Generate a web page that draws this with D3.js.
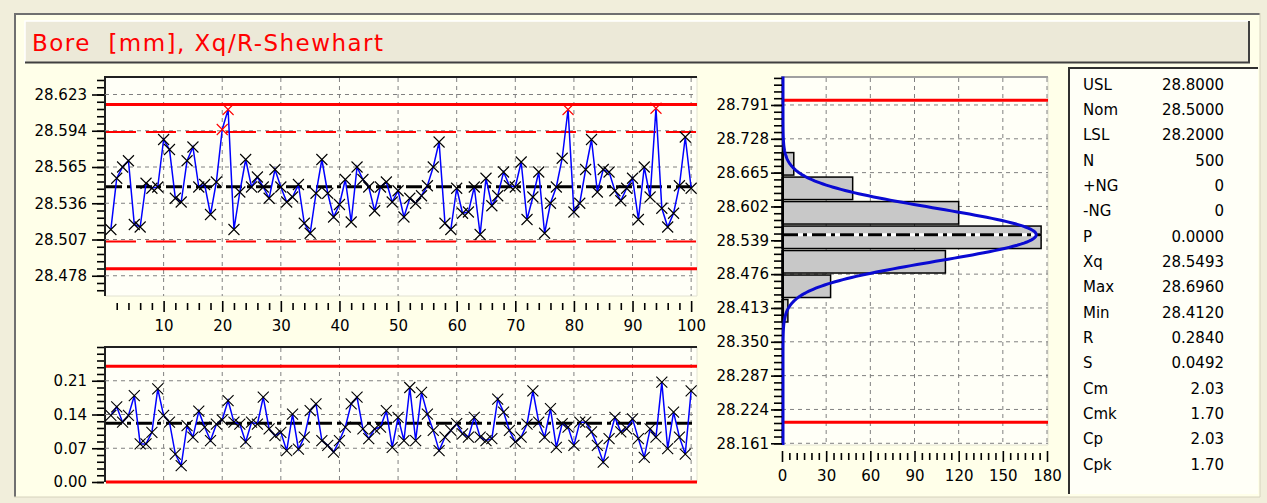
<!DOCTYPE html>
<html>
<head>
<meta charset="utf-8">
<script src="https://cdn.jsdelivr.net/npm/d3@7"></script>
<style>
  body { margin: 0; background: #f1eedb; }
  svg { display: block; }
  text { font-family: "DejaVu Sans", Verdana, sans-serif; font-size: 15px; fill: #000; }
</style>
</head>
<body>
<div id="shewhart"></div>
<script>
// subgroup means, 100 subgroups
const xbarValues = [
  28.515, 28.556, 28.565, 28.570, 28.519, 28.517, 28.552, 28.548, 28.549, 28.587,
  28.579, 28.540, 28.537, 28.570, 28.581, 28.549, 28.551, 28.527, 28.553, 28.595,
  28.611, 28.515, 28.545, 28.571, 28.549, 28.557, 28.549, 28.540, 28.563, 28.549,
  28.537, 28.541, 28.551, 28.520, 28.512, 28.544, 28.571, 28.544, 28.525, 28.535,
  28.555, 28.521, 28.565, 28.555, 28.549, 28.530, 28.549, 28.553, 28.537, 28.546,
  28.525, 28.540, 28.536, 28.542, 28.550, 28.565, 28.585, 28.520, 28.515, 28.548,
  28.528, 28.529, 28.549, 28.511, 28.556, 28.534, 28.542, 28.561, 28.550, 28.549,
  28.569, 28.523, 28.541, 28.561, 28.512, 28.536, 28.549, 28.572, 28.611, 28.529,
  28.536, 28.563, 28.587, 28.545, 28.563, 28.561, 28.546, 28.538, 28.548, 28.556,
  28.523, 28.565, 28.541, 28.612, 28.532, 28.517, 28.528, 28.550, 28.589, 28.548
];
// subgroup ranges
const rangeValues = [
  0.138, 0.156, 0.124, 0.138, 0.179, 0.079, 0.079, 0.103, 0.193, 0.138,
  0.124, 0.058, 0.034, 0.117, 0.093, 0.147, 0.114, 0.086, 0.120, 0.129,
  0.169, 0.124, 0.120, 0.083, 0.124, 0.120, 0.176, 0.110, 0.096, 0.103,
  0.065, 0.141, 0.068, 0.093, 0.148, 0.162, 0.086, 0.076, 0.062, 0.086,
  0.114, 0.162, 0.176, 0.110, 0.090, 0.110, 0.114, 0.148, 0.072, 0.134,
  0.086, 0.196, 0.086, 0.186, 0.141, 0.107, 0.065, 0.093, 0.107, 0.121,
  0.100, 0.093, 0.134, 0.093, 0.086, 0.090, 0.172, 0.145, 0.107, 0.083,
  0.093, 0.120, 0.189, 0.124, 0.093, 0.152, 0.072, 0.121, 0.114, 0.076,
  0.124, 0.124, 0.104, 0.076, 0.041, 0.090, 0.134, 0.104, 0.110, 0.131,
  0.090, 0.051, 0.110, 0.093, 0.207, 0.069, 0.145, 0.093, 0.058, 0.189
];

// control limits
const xbarCenter = 28.5493, xbarUcl = 28.615, xbarLcl = 28.4836;
const xbarUwl = 28.5931, xbarLwl = 28.5055;
const rCenter = 0.122, rUcl = 0.240, rLcl = 0.0;
const usl = 28.8, lsl = 28.2;

// tick labels
const xbarTicks = [28.478, 28.507, 28.536, 28.565, 28.594, 28.623];
const rTicks = [0.00, 0.07, 0.14, 0.21];
const sampleTicks = [10, 20, 30, 40, 50, 60, 70, 80, 90, 100];
const histValueTicks = [28.161, 28.224, 28.287, 28.350, 28.413, 28.476, 28.539, 28.602, 28.665, 28.728, 28.791];
const histCountTicks = [0, 30, 60, 90, 120, 150, 180];

// histogram
const binEdges = [28.3850, 28.4306, 28.4762, 28.5218, 28.5674, 28.6130, 28.6586, 28.7042];
const binCounts = [4, 33, 111, 176, 120, 48, 8];
const curveSigma = 0.0492, curvePeak = 172;

// statistics table
const statLabels = ["USL", "Nom", "LSL", "N", "+NG", "-NG", "P", "Xq", "Max", "Min", "R", "S", "Cm", "Cmk", "Cp", "Cpk"];
const statValues = ["28.8000", "28.5000", "28.2000", "500", "0", "0", "0.0000", "28.5493", "28.6960", "28.4120", "0.2840", "0.0492", "2.03", "1.70", "2.03", "1.70"];

const width = 1267, height = 503;
const svg = d3.select("#shewhart").append("svg")
  .attr("width", width)
  .attr("height", height);

// ---- frame ----
svg.append("rect").attr("width", width).attr("height", height).attr("fill", "#f1eedb");
svg.append("rect").attr("x", 14).attr("y", 13).attr("width", 1246).attr("height", 484).attr("fill", "#ffffe9");
svg.append("path").attr("d", "M15,497V14H1260").attr("fill", "none").attr("stroke", "#707070").attr("stroke-width", 2);
svg.append("path").attr("d", "M14,497H1260V13").attr("fill", "none").attr("stroke", "#d6d2bd").attr("stroke-width", 1);

// title bar
svg.append("rect").attr("x", 25).attr("y", 21).attr("width", 1225).attr("height", 42).attr("fill", "#ece9d8");
svg.append("path").attr("d", "M25,63V21H1249").attr("fill", "none").attr("stroke", "#ffffff").attr("stroke-width", 1.5);
svg.append("path").attr("d", "M25,62.5H1249V21").attr("fill", "none").attr("stroke", "#404040").attr("stroke-width", 2);
svg.append("text")
  .attr("x", 32).attr("y", 51)
  .attr("textLength", 351).attr("lengthAdjust", "spacing")
  .style("font-size", "23px").style("fill", "#ff0000")
  .text("Bore\u00a0 [mm], Xq/R-Shewhart");

// helpers
function plotBox(x0, y0, x1, y1, darkTop) {
  svg.append("rect").attr("x", x0).attr("y", y0).attr("width", x1 - x0).attr("height", y1 - y0).attr("fill", "#fffff7");
  svg.append("path").attr("d", `M${x0},${y1}H${x1}V${y0}`).attr("fill", "none").attr("stroke", "#e2e2d2").attr("stroke-width", 1);
  svg.append("path").attr("d", `M${x0},${y1}V${y0}H${x1}`).attr("fill", "none")
    .attr("stroke", darkTop ? "#202020" : "#a0a0a0").attr("stroke-width", 2);
}
function styleAxis(g) {
  g.select(".domain").remove();
  g.selectAll(".tick line").attr("stroke", "#000").attr("stroke-width", 1.6);
  g.selectAll(".tick text").style("font-size", "15px").attr("fill", "#000");
}
function gridLines(g, xs, ys, xScale, yScale, x0, x1, y0, y1) {
  g.selectAll("line.gx").data(xs).join("line")
    .attr("class", "gx")
    .attr("x1", d => xScale(d)).attr("x2", d => xScale(d))
    .attr("y1", y0).attr("y2", y1);
  g.selectAll("line.gy").data(ys).join("line")
    .attr("class", "gy")
    .attr("x1", x0).attr("x2", x1)
    .attr("y1", d => yScale(d)).attr("y2", d => yScale(d));
  g.selectAll("line").attr("stroke", "#808080").attr("stroke-width", 1).attr("stroke-dasharray", "4,4");
}
function hLine(scale, v, x0, x1, color, w, dash) {
  svg.append("line")
    .attr("x1", x0).attr("x2", x1)
    .attr("y1", scale(v)).attr("y2", scale(v))
    .attr("stroke", color).attr("stroke-width", w)
    .attr("stroke-dasharray", dash || null);
}
const xMark = "M-5.5,-5.5L5.5,5.5M-5.5,5.5L5.5,-5.5";

// ---- X-bar chart ----
const cl = 105, cr = 697;
const xs = d3.scaleLinear().domain([0, 101]).range([cl, cr]);
const ys = d3.scaleLinear().domain([28.461, 28.637]).range([297, 77]);

plotBox(cl, 77, cr, 296, true);
gridLines(svg.append("g"), sampleTicks, xbarTicks, xs, ys, cl, cr, 78, 296);

hLine(ys, xbarUcl, cl + 1, cr, "#ff0000", 3);
hLine(ys, xbarLcl, cl + 1, cr, "#ff0000", 3);
hLine(ys, xbarUwl, cl + 1, cr, "#ff0000", 2, "30,10");
hLine(ys, xbarLwl, cl + 1, cr, "#ff0000", 2, "30,10");
hLine(ys, xbarCenter, cl + 1, cr, "#000", 3, "16,5,4,5");

svg.append("path")
  .datum(xbarValues)
  .attr("fill", "none")
  .attr("stroke", "#0000ff")
  .attr("stroke-width", 1.5)
  .attr("d", d3.line().x((d, i) => xs(i + 1)).y(d => ys(d)));

svg.append("g").selectAll("path")
  .data(xbarValues)
  .join("path")
    .attr("transform", (d, i) => `translate(${xs(i + 1)},${ys(d)})`)
    .attr("d", xMark)
    .attr("fill", "none")
    .attr("stroke", d => (d > xbarUwl || d < xbarLwl) ? "#ff0000" : "#000")
    .attr("stroke-width", 1.1);

// y axis
const yMinor = d3.range(-2, 28).map(k => 28.478 + k * 0.0058).filter(v => v > 28.461 && v < 28.637);
svg.append("g").attr("transform", `translate(${cl - 1},0)`)
  .call(d3.axisLeft(ys).tickValues(yMinor).tickSize(7).tickFormat(""))
  .call(styleAxis);
svg.append("g").attr("transform", `translate(${cl - 1},0)`)
  .call(d3.axisLeft(ys).tickValues(xbarTicks).tickSize(12).tickPadding(5).tickFormat(d3.format(".3f")))
  .call(styleAxis);
// x axis
svg.append("g").attr("transform", "translate(0,303)")
  .call(d3.axisBottom(xs).tickValues(d3.range(2, 101, 2).filter(v => v % 10)).tickSize(7).tickFormat(""))
  .call(styleAxis);
svg.append("g").attr("transform", "translate(0,301)")
  .call(d3.axisBottom(xs).tickValues(sampleTicks).tickSize(11).tickPadding(8))
  .call(styleAxis);

// ---- R chart ----
const ry = d3.scaleLinear().domain([0, 0.28]).range([482, 347]);
plotBox(cl, 347, cr, 482, true);
gridLines(svg.append("g"), sampleTicks, rTicks.filter(v => v > 0), xs, ry, cl, cr, 348, 482);

hLine(ry, rUcl, cl + 1, cr, "#ff0000", 3);
hLine(ry, rLcl, cl + 1, cr, "#ff0000", 3);
hLine(ry, rCenter, cl + 1, cr, "#000", 3, "16,5,4,5");

svg.append("path")
  .datum(rangeValues)
  .attr("fill", "none")
  .attr("stroke", "#0000ff")
  .attr("stroke-width", 1.5)
  .attr("d", d3.line().x((d, i) => xs(i + 1)).y(d => ry(d)));

svg.append("g").selectAll("path")
  .data(rangeValues)
  .join("path")
    .attr("transform", (d, i) => `translate(${xs(i + 1)},${ry(d)})`)
    .attr("d", xMark)
    .attr("fill", "none")
    .attr("stroke", "#000")
    .attr("stroke-width", 1.1);

svg.append("g").attr("transform", `translate(${cl - 1},0)`)
  .call(d3.axisLeft(ry).tickValues(d3.range(0, 21).map(k => k * 0.014)).tickSize(7).tickFormat(""))
  .call(styleAxis);
svg.append("g").attr("transform", `translate(${cl - 1},0)`)
  .call(d3.axisLeft(ry).tickValues(rTicks).tickSize(12).tickPadding(5).tickFormat(d3.format(".2f")))
  .call(styleAxis);

// ---- histogram ----
const hl = 782, hr = 1048, ht = 77, hb = 445;
const hx = d3.scaleLinear().domain([0, 180]).range([hl, 1047]);
const hy = d3.scaleLinear().domain([28.1578, 28.8431]).range([hb, ht]);

plotBox(hl, ht, hr, hb, false);
gridLines(svg.append("g"), histCountTicks.slice(1), histValueTicks, hx, hy, hl, hr, ht + 1, hb);

svg.append("g").selectAll("rect")
  .data(binCounts)
  .join("rect")
    .attr("x", hx(0))
    .attr("y", (d, i) => hy(binEdges[i + 1]) + 1)
    .attr("width", d => hx(d) - hx(0))
    .attr("height", (d, i) => hy(binEdges[i]) - hy(binEdges[i + 1]) - 2)
    .attr("fill", "#c8c8c8")
    .attr("stroke", "#000")
    .attr("stroke-width", 1.5);

hLine(hy, usl, hl, hr, "#ff0000", 3);
hLine(hy, lsl, hl, hr, "#ff0000", 3);
hLine(hy, xbarCenter, hl + 2, hx(d3.max(binCounts)), "#ffffff", 3);
hLine(hy, xbarCenter, hl + 2, hx(d3.max(binCounts)), "#000", 3, "14,5,4,5");

svg.append("line").attr("x1", hl + 1).attr("x2", hl + 1).attr("y1", ht).attr("y2", hb)
  .attr("stroke", "#000").attr("stroke-width", 2);

// fitted normal curve
const curveY = d3.range(hy.domain()[0], hy.domain()[1] + 0.001, 0.002);
svg.append("path")
  .datum(curveY)
  .attr("fill", "none")
  .attr("stroke", "#0a0ad2")
  .attr("stroke-width", 3)
  .attr("d", d3.line()
    .x(v => hx(curvePeak * Math.exp(-0.5 * Math.pow((v - xbarCenter) / curveSigma, 2))) + 1)
    .y(v => hy(v)));

const hyMinor = d3.range(0, 55).map(k => 28.161 + k * 0.0126);
svg.append("g").attr("transform", `translate(${hl},0)`)
  .call(d3.axisLeft(hy).tickValues(hyMinor).tickSize(8).tickFormat(""))
  .call(styleAxis);
svg.append("g").attr("transform", `translate(${hl},0)`)
  .call(d3.axisLeft(hy).tickValues(histValueTicks).tickSize(11).tickPadding(2).tickFormat(d3.format(".3f")))
  .call(styleAxis);
svg.append("g").attr("transform", "translate(0,453)")
  .call(d3.axisBottom(hx).tickValues(d3.range(0, 181, 5).filter(v => v % 30)).tickSize(7).tickFormat(""))
  .call(styleAxis);
svg.append("g").attr("transform", "translate(0,451)")
  .call(d3.axisBottom(hx).tickValues(histCountTicks).tickSize(11).tickPadding(8))
  .call(styleAxis);

// ---- statistics table ----
svg.append("rect").attr("x", 1068).attr("y", 67).attr("width", 190).attr("height", 427).attr("fill", "#fffff7");
svg.append("path").attr("d", "M1069,494V68H1258").attr("fill", "none").attr("stroke", "#303030").attr("stroke-width", 2);

const rowY = d3.scaleBand().domain(statLabels).range([72, 477.3]);
const rows = svg.append("g").selectAll("g")
  .data(statLabels)
  .join("g")
    .attr("transform", d => `translate(0,${rowY(d) + rowY.bandwidth() / 2 + 5})`);
rows.append("text").attr("x", 1083).text(d => d);
rows.append("text").attr("x", 1224).attr("text-anchor", "end").text((d, i) => statValues[i]);
</script>
</body>
</html>
